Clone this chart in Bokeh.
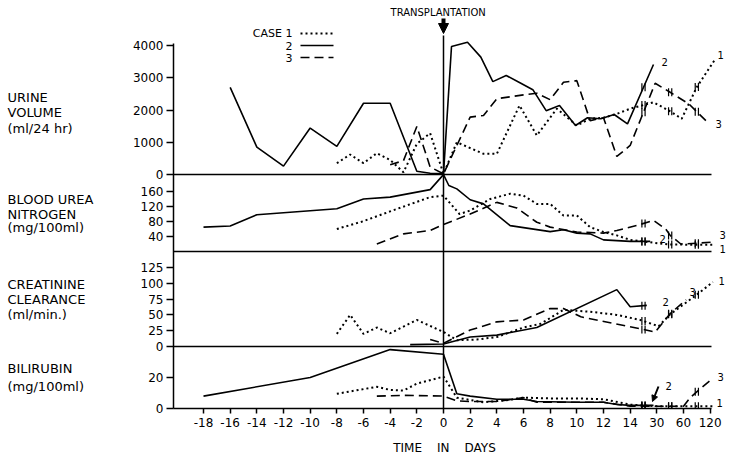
import numpy as np
from bokeh.plotting import figure
from bokeh.layouts import row
from bokeh.models import Range1d, FixedTicker, Label, Arrow, NormalHead
from bokeh.core.properties import value
from bokeh.embed import file_html
from bokeh.resources import INLINE

# ---------------- data ----------------
tick_days = [-18, -16, -14, -12, -10, -8, -6, -4, -2, 0, 2, 4, 6, 8, 10, 12, 14, 30, 60, 120]
tick_labels = ["-18", "-16", "-14", "-12", "-10", "-8", "-6", "-4", "-2", "0", "2", "4", "6",
               "8", "10", "12", "14", "30", "60", "120"]
break_days = [14, 30, 60, 120]
break_pos = [14, 16, 18, 20]

# urine volume (ml/24 hr)
urine1_days = [-8, -7, -6, -5, -4, -3, -2, -1, 0, 1, 3, 4, 5.7, 7, 8.5, 10, 11, 12, 13, 14, 28, 45, 58, 90, 132]
urine1_vals = [350, 620, 350, 660, 450, 70, 950, 1280, 20, 1000, 640, 640, 2140, 1210, 2040, 1520, 1730,
               1760, 1880, 2040, 2240, 1960, 1730, 2710, 3590]
urine2_days = [-16, -14, -12, -10, -8, -6, -4, -2, -1, 0, 0.6, 1.8, 2.8, 3.7, 4.7, 5.8, 6.7, 7.7, 8.7, 9.9,
               10.8, 11.8, 12.8, 13.8, 28]
urine2_vals = [2700, 850, 260, 1440, 870, 2210, 2210, 100, 40, 20, 3970, 4100, 3640, 2880, 3070, 2830, 2630,
               1980, 2140, 1520, 1760, 1730, 1860, 1570, 3410]
urine3_days = [-4, -3, -2, -1, 0, 2, 3, 4, 6, 7, 8, 9, 10, 11, 12, 13, 14, 29, 45, 72, 114]
urine3_vals = [300, 430, 1490, 230, 20, 1780, 1830, 2350, 2470, 2520, 2320, 2860, 2910, 1670, 1760, 560, 900,
               2830, 2550, 2190, 1620]

# blood urea nitrogen (mg/100ml)
bun1_days = [-8, -6, -4, -1, 0, 1.2, 2, 3.5, 5, 6, 7, 8, 9, 10, 11, 12, 13, 14, 42, 75, 126]
bun1_vals = [60, 81, 107, 145, 149, 100, 109, 140, 154, 149, 127, 127, 96, 96, 65, 52, 43, 31, 19, 18, 18]
bun2_days = [-18, -16, -14, -8, -6, -4, -1, 0, 0.4, 1, 2, 3, 5, 8, 9, 10, 11, 12, 13, 14, 26]
bun2_vals = [65, 68, 98, 114, 140, 145, 165, 205, 176, 167, 138, 127, 69, 53, 58, 49, 47, 31, 29, 27, 27]
bun3_days = [-5, -3, -1, 0, 2, 4, 5.5, 7, 8, 10, 12, 13, 20, 28, 40, 45, 57, 90, 126]
bun3_vals = [20, 47, 56, 72, 100, 131, 116, 78, 65, 52, 49, 56, 72, 83, 60, 43, 20, 22, 25]

# creatinine clearance (ml/min.)
creat1_days = [-8, -7, -6, -5, -4, -2, 0, 1, 2.5, 4, 6, 7.3, 9, 11, 13, 20, 32, 45, 90, 126]
creat1_vals = [20, 50, 20, 30, 21, 42, 23, 10, 11, 15, 30, 36, 58, 55, 50, 42, 32, 51, 82, 102]
creat2_days = [-2.5, 0, 2, 4, 7, 13, 14, 24]
creat2_vals = [3, 4, 15, 18, 30, 90, 63, 65]
creat3_days = [-1, 0, 2, 4, 6, 8, 9, 10.3, 20, 29, 45, 66]
creat3_vals = [11, 5, 26, 39, 42, 60, 60, 47, 28, 23, 52, 74]

# bilirubin (mg/100ml)
bili1_days = [-8, -5, -4, -3, -2, 0, 1, 3, 5, 6, 8, 10, 12, 14, 30, 60, 126]
bili1_vals = [9.5, 14, 12, 11.6, 16, 20.6, 7, 4, 5.6, 7, 6.5, 6.5, 6, 2.5, 1.5, 1.5, 1.5]
bili2_days = [-18, -10, -4, 0, 1, 2, 4, 6, 7, 10, 12, 13, 14, 28]
bili2_vals = [8, 20, 38, 35, 9.5, 8, 6, 6, 4.5, 4, 4, 2.6, 2, 2]
bili3_days = [-5, -3, 0, 1, 2, 4, 6, 7, 10, 12, 14, 30, 60, 75, 99, 120]
bili3_vals = [8, 8.5, 8, 5, 4.5, 4.5, 7, 4, 4, 4, 1.5, 1.5, 1.5, 7, 13, 18]

urine_ticks = [0, 1000, 2000, 3000, 4000]
bun_ticks = [40, 80, 120, 160]
creat_ticks = [0, 25, 50, 75, 100, 125]
bili_ticks = [0, 20]

panel_titles = [["URINE", "VOLUME", "(ml/24 hr)"],
                ["BLOOD UREA", "NITROGEN", "(mg/100ml)"],
                ["CREATININE", "CLEARANCE", "(ml/min.)"],
                ["BILIRUBIN", "(mg/100ml)"]]
x_title = "TIME\u2003\u2005IN\u2003\u2005DAYS\u2003"

# ---------------- layout (page pixels) ----------------
X0_PX, PX_PER_POS = 443.0, 13.333
LEFT_W = 120
FRAME_L, FRAME_R, FRAME_T, FRAME_B = 173.0, 727.0, 0.0, 408.0
CANVAS_H = 458
AXIS_END = 20.1
# panel: (pixel of zero, pixels per unit)
panels = {"urine": (174.0, 0.03225), "bun": (251.0, 0.375), "creat": (346.0, 0.632), "bili": (408.0, 1.55)}
title_rows = [[97, 112, 128], [199, 214, 227], [284, 299, 314], [368, 386]]
FONT = "DejaVu Sans"


def to_pos(days):
    d = np.asarray(days, dtype=float)
    out = np.interp(d, break_days, break_pos)
    out = np.where(d <= 14, d, out)
    out = np.where(d > 120, 20 + (d - 120) / 30.0, out)
    return out


x_start = (FRAME_L - X0_PX) / PX_PER_POS
x_end = (FRAME_R - X0_PX) / PX_PER_POS
y_px = Range1d(FRAME_B, FRAME_T)

# ---- left strip with the panel titles ----
left = figure(width=LEFT_W, height=CANVAS_H, x_range=Range1d(0, LEFT_W), y_range=y_px,
              output_backend="svg", toolbar_location=None, x_axis_location=None, y_axis_location=None,
              min_border_left=0, min_border_right=0, min_border_top=0,
              min_border_bottom=int(CANVAS_H - FRAME_B))
left.grid.visible = False
left.outline_line_color = None
tx, ty, tt = [], [], []
for lines, ys in zip(panel_titles, title_rows):
    for t, yy in zip(lines, ys):
        tx.append(7)
        ty.append(yy)
        tt.append(t)
left.text(x=tx, y=ty, text=tt, text_align="left", text_baseline="middle",
          text_font=value(FONT), text_font_size="13px", text_color="black")

# ---- main chart ----
p = figure(width=int(FRAME_R - LEFT_W), height=CANVAS_H, x_range=Range1d(x_start, x_end), y_range=y_px,
           output_backend="svg", toolbar_location=None,
           min_border_left=int(FRAME_L - LEFT_W), min_border_right=0, min_border_top=0,
           min_border_bottom=int(CANVAS_H - FRAME_B))
p.extra_x_ranges = {"px": Range1d(FRAME_L, FRAME_R)}
p.extra_y_ranges = {k: Range1d((z - FRAME_B) / s, (z - FRAME_T) / s) for k, (z, s) in panels.items()}
p.grid.visible = False
p.outline_line_color = None

# x axis
xt = [float(v) for v in to_pos(tick_days)]
p.xaxis.ticker = FixedTicker(ticks=xt)
p.xaxis.major_label_overrides = {t: l for t, l in zip(xt, tick_labels)}
p.xaxis.bounds = (x_start, AXIS_END)
p.xaxis.major_tick_out = 5
p.xaxis.major_tick_in = 0
p.xaxis.minor_tick_out = 0
p.xaxis.minor_tick_in = 0
p.xaxis.axis_line_width = 1.5
p.xaxis.major_tick_line_width = 1.5
p.xaxis.major_label_standoff = 4
p.xaxis.major_label_text_font = FONT
p.xaxis.major_label_text_font_size = "12px"
p.xaxis.major_label_text_color = "black"
p.xaxis.axis_label = x_title
p.xaxis.axis_label_standoff = 11
p.xaxis.axis_label_text_font = FONT
p.xaxis.axis_label_text_font_size = "12px"
p.xaxis.axis_label_text_font_style = "normal"
p.xaxis.axis_label_text_color = "black"

# y axis (one shared axis, ticks placed by each panel's scale)
ytick_pos, ytick_lab = [], []
for name, ticks in [("urine", urine_ticks), ("bun", bun_ticks), ("creat", creat_ticks), ("bili", bili_ticks)]:
    z, s = panels[name]
    for t in ticks:
        ytick_pos.append(round(z - t * s, 2))
        ytick_lab.append(str(t))
p.yaxis.ticker = FixedTicker(ticks=ytick_pos)
p.yaxis.major_label_overrides = {t: l for t, l in zip(ytick_pos, ytick_lab)}
p.yaxis.bounds = (round(panels["urine"][0] - 4050 * panels["urine"][1], 2), FRAME_B)
p.yaxis.major_tick_out = 7
p.yaxis.major_tick_in = 0
p.yaxis.minor_tick_out = 0
p.yaxis.minor_tick_in = 0
p.yaxis.axis_line_width = 1.5
p.yaxis.major_tick_line_width = 1.5
p.yaxis.major_label_standoff = 3
p.yaxis.major_label_text_font = FONT
p.yaxis.major_label_text_font_size = "12px"
p.yaxis.major_label_text_color = "black"

# panel zero lines
for name in ["urine", "bun", "creat"]:
    p.line([x_start, AXIS_END], [0, 0], y_range_name=name, line_color="black", line_width=1.5)

styles = {
    1: dict(line_color="black", line_width=2, line_dash="2 3"),
    2: dict(line_color="black", line_width=1.6),
    3: dict(line_color="black", line_width=1.6, line_dash="9 5"),
}

series = {
    "urine": [(1, urine1_days, urine1_vals), (2, urine2_days, urine2_vals), (3, urine3_days, urine3_vals)],
    "bun": [(1, bun1_days, bun1_vals), (2, bun2_days, bun2_vals), (3, bun3_days, bun3_vals)],
    "creat": [(1, creat1_days, creat1_vals), (2, creat2_days, creat2_vals), (3, creat3_days, creat3_vals)],
    "bili": [(1, bili1_days, bili1_vals), (2, bili2_days, bili2_vals), (3, bili3_days, bili3_vals)],
}

for name, lst in series.items():
    for case, d, v in lst:
        xs = to_pos(d)
        p.line(xs, v, y_range_name=name, **styles[case])
        # axis-break marks on each line
        bx, by = [], []
        for bp in [15.0, 17.0, 19.0]:
            if xs.min() < bp < xs.max():
                yv = float(np.interp(bp, xs, v))
                bx += [bp - 0.12, bp + 0.12]
                by += [yv, yv]
        if bx:
            p.scatter(bx, by, y_range_name=name, marker="dash", angle=np.pi / 2, size=8,
                      line_color="black", line_width=1.2)

# transplantation line and arrow
p.segment(x0=[0], y0=[35], x1=[0], y1=[FRAME_B], line_color="black", line_width=1.5)
p.add_layout(Arrow(end=NormalHead(size=10, fill_color="black", line_color="black"),
                   x_start=0, y_start=18, x_end=0, y_end=33, line_width=4, line_color="black"))
p.add_layout(Label(x=-0.4, y=12, text="TRANSPLANTATION", text_align="center", text_baseline="middle",
                   text_font=FONT, text_font_size="10px", text_color="black"))

# legend
for (yl, case, txt) in [(33, 1, "CASE 1"), (45, 2, "2"), (57, 3, "3")]:
    p.line([300, 333], [yl, yl], x_range_name="px", **styles[case])
    p.add_layout(Label(x=292, y=yl, x_range_name="px", text=txt, text_align="right", text_baseline="middle",
                       text_font=FONT, text_font_size="11px", text_color="black"))

# case labels at right ends
end_labels = [("2", 661, 61), ("1", 717, 54), ("3", 715, 123),
              ("2", 659, 238), ("3", 719, 234), ("1", 719, 248),
              ("2", 662, 301), ("3", 689, 291), ("1", 718, 280),
              ("2", 665, 385), ("3", 717, 376), ("1", 716, 402)]
for txt, xx, yy in end_labels:
    p.add_layout(Label(x=xx, y=yy, x_range_name="px", text=txt, text_align="left", text_baseline="middle",
                       text_font=FONT, text_font_size="10px", text_color="black"))
p.add_layout(Arrow(end=NormalHead(size=6, fill_color="black", line_color="black"), x_range_name="px",
                   x_start=658, y_start=386, x_end=652, y_end=401, line_width=2, line_color="black"))

layout = row(left, p, spacing=0)
open("out.html", "w").write(file_html(layout, INLINE))
